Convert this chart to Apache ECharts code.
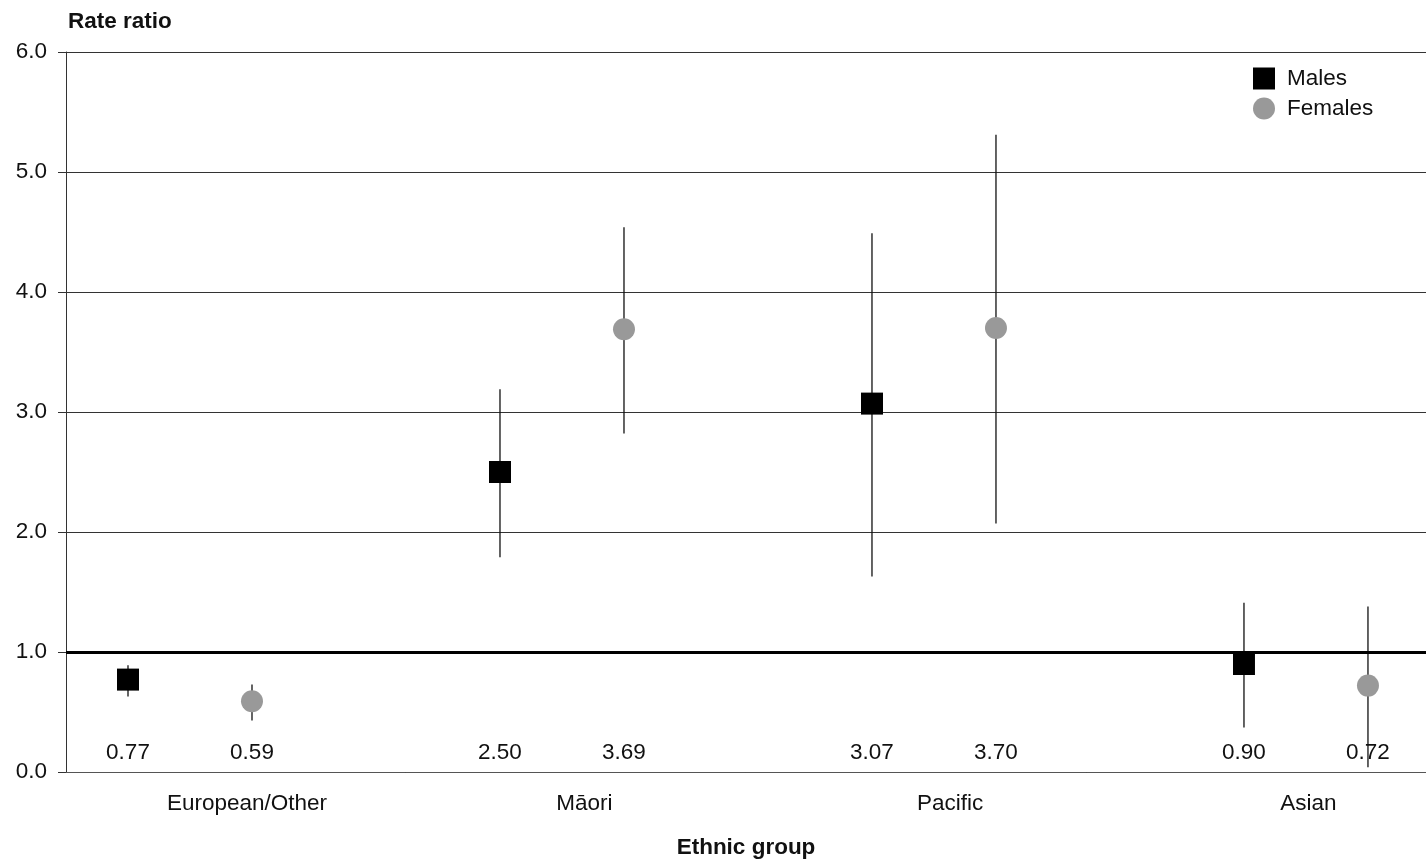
<!DOCTYPE html>
<html>
<head>
<meta charset="utf-8">
<script src="https://cdn.jsdelivr.net/npm/echarts@6/dist/echarts.min.js"></script>
<style>html,body{margin:0;padding:0;background:#fff;}#c{width:1426px;height:859px;}</style>
</head>
<body>
<div id="c"></div>
<script>
var groups = ['European/Other', 'Māori', 'Pacific', 'Asian'];
var groupLabelPos = [0.96, 3.68, 6.63, 9.52];
var maleRR = [0.77, 2.50, 3.07, 0.90];
var maleLow = [0.63, 1.79, 1.63, 0.37];
var maleHigh = [0.89, 3.19, 4.49, 1.41];
var femaleRR = [0.59, 3.69, 3.70, 0.72];
var femaleLow = [0.43, 2.82, 2.07, 0.04];
var femaleHigh = [0.73, 4.54, 5.31, 1.38];
var yTicks = [0, 1, 2, 3, 4, 5, 6];

var FONT = 'Liberation Sans, Arial, sans-serif';
var FS = 22.5;
var labelY = 0.16;

function xPos(i, sex) { return i * 3 + sex; }

var maleData = maleRR.map(function (v, i) { return [xPos(i, 0), v]; });
var femaleData = femaleRR.map(function (v, i) { return [xPos(i, 1), v]; });
var errData = [];
maleRR.forEach(function (v, i) { errData.push([xPos(i, 0), maleLow[i], maleHigh[i]]); });
femaleRR.forEach(function (v, i) { errData.push([xPos(i, 1), femaleLow[i], femaleHigh[i]]); });
var valueLabels = [];
maleRR.forEach(function (v, i) { valueLabels.push([xPos(i, 0), labelY, v]); });
femaleRR.forEach(function (v, i) { valueLabels.push([xPos(i, 1), labelY, v]); });

var chart = echarts.init(document.getElementById('c'));
chart.setOption({
  animation: false,
  textStyle: { fontFamily: FONT },
  grid: { left: 66, right: 0, top: 52, bottom: 87, outerBoundsMode: 'none', containLabel: false },
  legend: {
    data: [{ name: 'Males', icon: 'rect' }, { name: 'Females', icon: 'circle' }],
    orient: 'vertical',
    left: 1253, top: 67, padding: 0,
    itemWidth: 22, itemHeight: 22, itemGap: 7,
    textStyle: { fontFamily: FONT, fontSize: FS, color: '#111', padding: [0, 0, 0, 7] }
  },
  xAxis: {
    type: 'value', min: -0.5, max: 10.468,
    name: 'Ethnic group', nameLocation: 'middle', nameGap: 64,
    nameTextStyle: { fontFamily: FONT, fontSize: FS, fontWeight: 'bold', color: '#111' },
    axisLine: { show: true, onZero: false, lineStyle: { color: '#555', width: 1 } },
    axisTick: { show: false },
    splitLine: { show: false },
    axisLabel: {
      customValues: groupLabelPos,
      margin: 20, fontFamily: FONT, fontSize: FS, color: '#111',
      formatter: function (v) {
        var k = groupLabelPos.indexOf(v);
        return k >= 0 ? groups[k] : '';
      }
    }
  },
  yAxis: {
    type: 'value', min: 0, max: 6, interval: 1,
    name: 'Rate ratio', nameLocation: 'end', nameGap: 19,
    nameTextStyle: { fontFamily: FONT, fontSize: FS, fontWeight: 'bold', color: '#111', align: 'left', padding: [0, 0, 0, 2] },
    axisLine: { show: true, onZero: false, lineStyle: { color: '#333', width: 1 } },
    axisTick: { show: true, length: 8, lineStyle: { color: '#333' } },
    splitLine: { show: true, lineStyle: { color: '#333', width: 1 } },
    axisLabel: {
      margin: 19, fontFamily: FONT, fontSize: FS, color: '#111',
      formatter: function (v) { return yTicks.indexOf(v) >= 0 ? v.toFixed(1) : ''; }
    }
  },
  series: [
    {
      type: 'custom', name: 'CI', data: errData, z: 2,
      renderItem: function (params, api) {
        var p1 = api.coord([api.value(0), api.value(1)]);
        var p2 = api.coord([api.value(0), api.value(2)]);
        return { type: 'line', shape: { x1: p1[0], y1: p1[1], x2: p2[0], y2: p2[1] },
          style: { stroke: '#111', lineWidth: 1.3 } };
      },
      markLine: {
        silent: true, symbol: 'none', label: { show: false },
        lineStyle: { color: '#000', width: 3, type: 'solid', opacity: 1 },
        data: [{ yAxis: 1 }]
      }
    },
    {
      type: 'scatter', name: 'Males', data: maleData, symbol: 'rect', symbolSize: 22, z: 5,
      itemStyle: { color: '#000', opacity: 1 }
    },
    {
      type: 'scatter', name: 'Females', data: femaleData, symbol: 'circle', symbolSize: 22, z: 5,
      itemStyle: { color: '#999', opacity: 1 }
    },
    {
      type: 'scatter', name: 'values', data: valueLabels, symbolSize: 0, z: 6, silent: true,
      itemStyle: { opacity: 1 },
      label: {
        show: true, position: 'inside', fontFamily: FONT, fontSize: FS, color: '#111',
        formatter: function (p) { return p.value[2].toFixed(2); }
      }
    }
  ]
});
</script>
</body>
</html>
